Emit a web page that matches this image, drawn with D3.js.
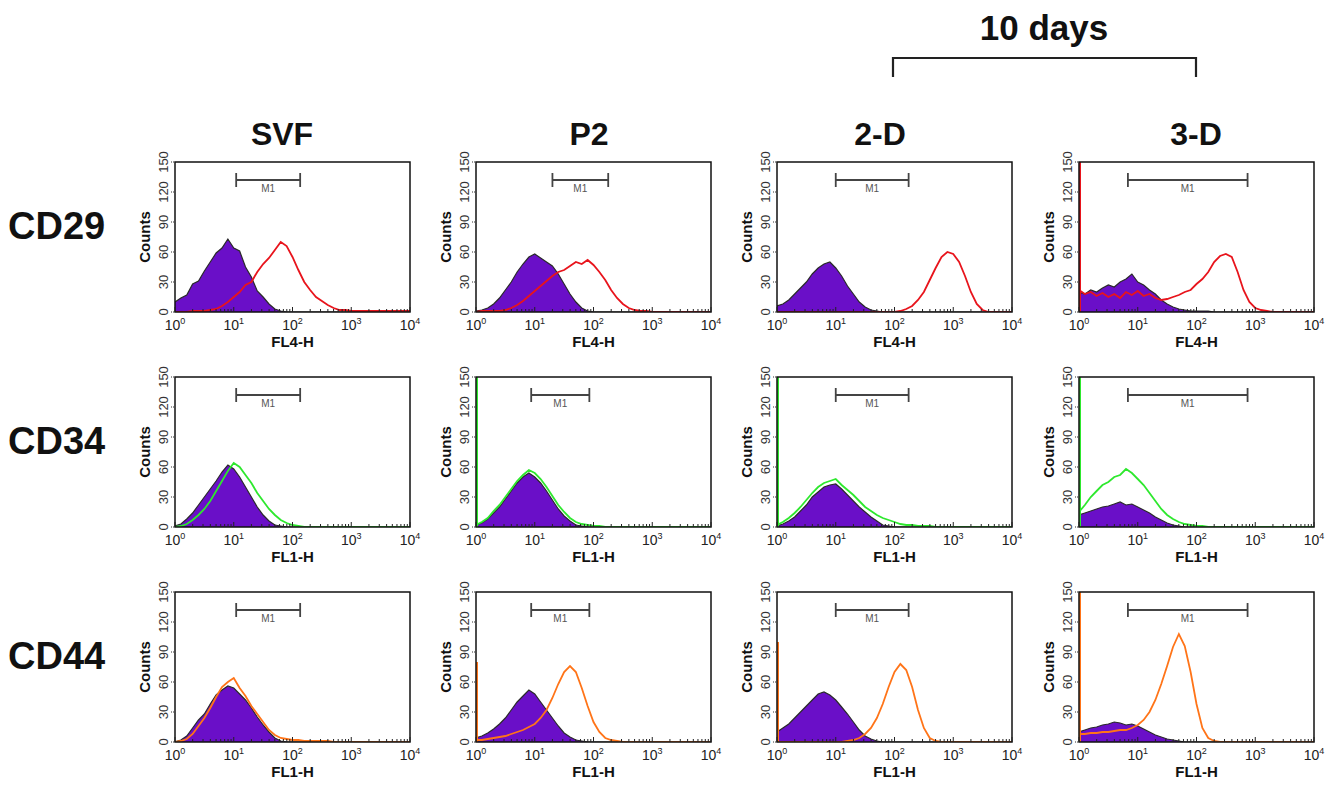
<!DOCTYPE html>
<html>
<head>
<meta charset="utf-8">
<script src="https://cdn.jsdelivr.net/npm/d3@7"></script>
<style>
  body { margin: 0; background: #fff; }
  svg { font-family: Arial, "Liberation Sans", sans-serif; }
</style>
</head>
<body>
<svg width="1336" height="787"></svg>
<script>
// log10 positions of the histogram bins (decades)
const logBins = [0,0.1,0.2,0.3,0.4,0.5,0.6,0.7,0.8,0.9,1,1.1,1.2,1.3,1.4,1.5,1.6,1.7,1.8,1.9,2,
                 2.1,2.2,2.3,2.4,2.5,2.6,2.7,2.8,2.9,3,3.1,3.2,3.3,3.4,3.5,3.6,3.7,3.8,3.9,4];
const columns = ["SVF", "P2", "2-D", "3-D"];
const markers = ["CD29", "CD34", "CD44"];
const channels = ["FL4-H", "FL1-H", "FL1-H"];
const yTicks = [0, 30, 60, 90, 120, 150];
const xTicks = [1, 10, 100, 1000, 10000];

// CD29 - isotype (filled) and antibody (line)
const cd29IsoSVF = [10,14,17,28,31,41,50,59,64,73, 64,61,45,35,21,15,8,3,1,0, 0,0,0,0,0,0,0,0,0,0, 0,0,0,0,0,0,0,0,0,0, 0];
const cd29AbSVF  = [0,0,0,1,1,1,2,3,6,10, 15,20,27,30,40,48,54,62,70,66, 55,42,30,22,15,11,7,4,2,2, 1,1,1,1,1,1,1,1,1,1, 1];
const cd29IsoP2  = [1,2,4,8,14,22,30,40,48,55, 58,54,50,46,38,28,18,10,4,1, 0,0,0,0,0,0,0,0,0,0, 0,0,0,0,0,0,0,0,0,0, 0];
const cd29AbP2   = [0,1,1,1,1,2,4,7,11,16, 21,26,31,36,40,42,46,50,48,52, 47,40,32,22,14,8,4,2,1,1, 0,0,0,0,0,0,0,0,0,0, 0];
const cd29Iso2D  = [6,8,12,18,24,30,38,44,48,50, 44,36,26,18,10,5,2,1,0,0, 0,0,0,0,0,0,0,0,0,0, 0,0,0,0,0,0,0,0,0,0, 0];
const cd29Ab2D   = [0,0,0,0,0,0,0,0,0,0, 0,0,0,0,0,0,0,0,0,0, 0,1,3,6,12,20,32,44,55,60, 58,50,36,20,8,2,0,0,0,0, 0];
const cd29Iso3D  = [20,18,22,20,24,27,25,30,33,38, 30,27,22,18,12,8,5,3,2,1, 1,1,1,0,0,0,0,0,0,0, 0,0,0,0,0,0,0,0,0,0, 0];
const cd29Ab3D   = [22,18,20,16,19,15,18,14,20,17, 21,16,18,14,12,13,15,17,20,22, 28,33,40,50,56,58,55,40,22,10, 4,2,1,0,0,0,0,0,0,0, 0];

// CD34
const cd34IsoSVF = [1,3,8,14,22,30,38,46,55,62, 58,50,40,30,20,12,6,2,1,0, 0,0,0,0,0,0,0,0,0,0, 0,0,0,0,0,0,0,0,0,0, 0];
const cd34AbSVF  = [0,1,3,7,12,18,26,36,46,56, 64,60,52,44,34,26,18,12,7,4, 2,1,0,0,0,0,0,0,0,0, 0,0,0,0,0,0,0,0,0,0, 0];
const cd34IsoP2  = [2,4,8,14,20,28,36,44,50,54, 50,44,36,27,18,11,6,2,1,0, 0,0,0,0,0,0,0,0,0,0, 0,0,0,0,0,0,0,0,0,0, 0];
const cd34AbP2   = [2,5,9,16,22,30,38,46,52,57, 54,48,40,31,22,15,9,5,3,2, 1,1,0,0,0,0,0,0,0,0, 0,0,0,0,0,0,0,0,0,0, 0];
const cd34Iso2D  = [1,3,6,10,16,22,30,35,40,42, 43,38,32,26,20,15,10,6,2,1, 0,0,0,0,0,0,0,0,0,0, 0,0,0,0,0,0,0,0,0,0, 0];
const cd34Ab2D   = [2,5,9,14,20,27,34,40,44,46, 48,42,37,32,26,20,16,12,9,7, 5,3,2,2,1,1,1,0,0,0, 0,0,0,0,0,0,0,0,0,0, 0];
const cd34Iso3D  = [12,14,16,18,20,21,23,25,22,23, 20,17,14,10,7,4,2,1,0,0, 0,0,0,0,0,0,0,0,0,0, 0,0,0,0,0,0,0,0,0,0, 0];
const cd34Ab3D   = [15,22,30,36,42,45,50,52,58,54, 48,42,34,26,18,12,8,5,3,2, 1,1,0,0,0,0,0,0,0,0, 0,0,0,0,0,0,0,0,0,0, 0];

// CD44
const cd44IsoSVF = [0,2,6,14,22,28,38,47,52,56, 54,48,42,34,25,17,10,4,1,0, 0,0,0,0,0,0,0,0,0,0, 0,0,0,0,0,0,0,0,0,0, 0];
const cd44AbSVF  = [0,1,3,8,16,24,34,45,55,60, 64,54,46,36,28,20,12,7,4,3, 2,2,1,1,1,1,1,0,0,0, 0,0,0,0,0,0,0,0,0,0, 0];
const cd44IsoP2  = [4,6,9,13,18,24,32,40,46,52, 48,40,32,24,16,9,5,2,1,0, 0,0,0,0,0,0,0,0,0,0, 0,0,0,0,0,0,0,0,0,0, 0];
const cd44AbP2   = [2,2,3,4,5,6,8,10,12,15, 18,24,32,44,58,70,76,70,54,36, 20,10,4,2,1,0,0,0,0,0, 0,0,0,0,0,0,0,0,0,0, 0];
const cd44Iso2D  = [10,14,18,24,30,36,42,48,50,47, 42,35,28,20,12,6,3,1,0,0, 0,0,0,0,0,0,0,0,0,0, 0,0,0,0,0,0,0,0,0,0, 0];
const cd44Ab2D   = [0,0,0,0,0,0,0,0,0,0, 0,0,1,2,4,8,14,24,38,55, 70,78,72,55,32,14,4,1,0,0, 0,0,0,0,0,0,0,0,0,0, 0];
const cd44Iso3D  = [10,12,14,15,17,18,20,19,17,18, 16,13,10,7,5,3,2,1,0,0, 0,0,0,0,0,0,0,0,0,0, 0,0,0,0,0,0,0,0,0,0, 0];
const cd44Ab3D   = [8,8,9,9,10,10,11,12,12,14, 17,22,30,42,58,76,95,108,96,70, 38,14,4,1,0,0,0,0,0,0, 0,0,0,0,0,0,0,0,0,0, 0];

// off-scale first channel counts (antibody line), per column
const cd29Spike = [0, 0, 0, 150];
const cd34Spike = [0, 150, 150, 150];
const cd44Spike = [0, 80, 100, 150];

// M1 marker gates [from, to] per column
const cd29Gate = [[11, 135], [20, 178], [10, 174], [6.8, 740]];
const cd34Gate = [[11, 135], [8.7, 85], [10, 174], [6.8, 740]];
const cd44Gate = [[11, 135], [8.7, 85], [10, 174], [6.8, 740]];

const rows = [
  {color: "#e8141c", iso: [cd29IsoSVF, cd29IsoP2, cd29Iso2D, cd29Iso3D], ab: [cd29AbSVF, cd29AbP2, cd29Ab2D, cd29Ab3D], spike: cd29Spike, gate: cd29Gate},
  {color: "#2ee82e", iso: [cd34IsoSVF, cd34IsoP2, cd34Iso2D, cd34Iso3D], ab: [cd34AbSVF, cd34AbP2, cd34Ab2D, cd34Ab3D], spike: cd34Spike, gate: cd34Gate},
  {color: "#ff7418", iso: [cd44IsoSVF, cd44IsoP2, cd44Iso2D, cd44Iso3D], ab: [cd44AbSVF, cd44AbP2, cd44Ab2D, cd44Ab3D], spike: cd44Spike, gate: cd44Gate}
];

const svg = d3.select("svg");
const colLeft = [175, 476, 777, 1079];
const rowTop = [162, 377, 592];
const pw = 235, ph = 150;

const x = d3.scaleLog().domain([1, 10000]).range([0, pw]);
const y = d3.scaleLinear().domain([0, 150]).range([ph, 0]);

const isoArea = d3.area()
  .x((d, i) => x(Math.pow(10, logBins[i])))
  .y0(y(0))
  .y1(d => y(d));
const histLine = d3.line()
  .x((d, i) => x(Math.pow(10, logBins[i])))
  .y(d => y(d));

// minor ticks of the log axis
let minorTicks = [];
[1, 10, 100, 1000].forEach(p => { for (let k = 2; k <= 9; k++) minorTicks.push(k * p); });

svg.append("defs").append("clipPath").attr("id", "plotclip")
  .append("rect").attr("x", 0).attr("y", 0).attr("width", pw).attr("height", ph);

rows.forEach((row, r) => {
  columns.forEach((col, c) => {
    const g = svg.append("g").attr("transform", "translate(" + colLeft[c] + "," + rowTop[r] + ")");
    const plot = g.append("g").attr("clip-path", "url(#plotclip)");

    // isotype control, filled
    plot.append("path")
      .datum(row.iso[c])
      .attr("d", isoArea)
      .attr("fill", "#6a0fc8");
    plot.append("path")
      .datum(row.iso[c])
      .attr("d", histLine)
      .attr("fill", "none")
      .attr("stroke", "#2a2a2a")
      .attr("stroke-width", 1.2);

    // antibody histogram
    plot.append("path")
      .datum(row.ab[c])
      .attr("d", histLine)
      .attr("fill", "none")
      .attr("stroke", row.color)
      .attr("stroke-width", 1.8);

    if (row.spike[c] > 0) {
      plot.append("line")
        .attr("x1", x(1) + 1).attr("x2", x(1) + 1)
        .attr("y1", y(0)).attr("y2", y(Math.min(row.spike[c], 150)))
        .attr("stroke", row.color)
        .attr("stroke-width", 2);
    }

    // frame
    g.append("rect")
      .attr("width", pw).attr("height", ph)
      .attr("fill", "none")
      .attr("stroke", "#111")
      .attr("stroke-width", 1.5);

    // x ticks
    g.selectAll(".minor").data(minorTicks).enter().append("line")
      .attr("x1", d => x(d)).attr("x2", d => x(d))
      .attr("y1", ph).attr("y2", ph - 3)
      .attr("stroke", "#222").attr("stroke-width", 1);
    g.selectAll(".major").data(xTicks).enter().append("line")
      .attr("x1", d => x(d)).attr("x2", d => x(d))
      .attr("y1", ph).attr("y2", ph - 5)
      .attr("stroke", "#222").attr("stroke-width", 1);
    const xl = g.selectAll(".xlab").data(xTicks).enter().append("text")
      .attr("x", d => x(d))
      .attr("y", ph + 18)
      .attr("text-anchor", "middle")
      .attr("font-size", 14)
      .attr("fill", "#222");
    xl.append("tspan").text("10");
    xl.append("tspan").attr("dy", -6).attr("font-size", 9).text(d => Math.round(Math.log10(d)));

    // y ticks
    g.selectAll(".ytick").data(yTicks).enter().append("line")
      .attr("x1", -4).attr("x2", 0)
      .attr("y1", d => y(d)).attr("y2", d => y(d))
      .attr("stroke", "#333").attr("stroke-dasharray", "1,1");
    g.selectAll(".ylab").data(yTicks).enter().append("text")
      .attr("transform", d => "translate(-7," + y(d) + ") rotate(-90)")
      .attr("text-anchor", "middle")
      .attr("font-size", 13)
      .attr("fill", "#333")
      .text(d => d);

    g.append("text")
      .attr("transform", "translate(-25," + (ph / 2) + ") rotate(-90)")
      .attr("text-anchor", "middle")
      .attr("font-size", 15)
      .attr("font-weight", "bold")
      .attr("fill", "#111")
      .text("Counts");

    g.append("text")
      .attr("x", pw / 2)
      .attr("y", ph + 35)
      .attr("text-anchor", "middle")
      .attr("font-size", 15)
      .attr("font-weight", "bold")
      .attr("fill", "#111")
      .text(channels[r]);

    // M1 marker
    const gx0 = x(row.gate[c][0]), gx1 = x(row.gate[c][1]);
    const m1 = g.append("g").attr("stroke", "#444").attr("stroke-width", 1.8);
    m1.append("line").attr("x1", gx0).attr("x2", gx1).attr("y1", 18).attr("y2", 18);
    m1.append("line").attr("x1", gx0).attr("x2", gx0).attr("y1", 11).attr("y2", 25);
    m1.append("line").attr("x1", gx1).attr("x2", gx1).attr("y1", 11).attr("y2", 25);
    g.append("text")
      .attr("x", (gx0 + gx1) / 2)
      .attr("y", 30)
      .attr("text-anchor", "middle")
      .attr("font-size", 10)
      .attr("fill", "#555")
      .text("M1");
  });
});

// column titles
const titleX = [282, 589, 880, 1196];
svg.selectAll(".coltitle").data(columns).enter().append("text")
  .attr("x", (d, i) => titleX[i])
  .attr("y", 145)
  .attr("text-anchor", "middle")
  .attr("font-size", 32)
  .attr("font-weight", "bold")
  .attr("fill", "#111")
  .text(d => d);

// row labels
svg.selectAll(".rowlabel").data(markers).enter().append("text")
  .attr("x", 8)
  .attr("y", (d, i) => rowTop[i] + 77)
  .attr("font-size", 38)
  .attr("font-weight", "bold")
  .attr("fill", "#111")
  .text(d => d);

// "10 days" bracket over 2-D and 3-D
svg.append("text")
  .attr("x", 1044).attr("y", 40)
  .attr("text-anchor", "middle")
  .attr("font-size", 35)
  .attr("font-weight", "bold")
  .attr("fill", "#111")
  .text("10 days");
svg.append("path")
  .attr("d", "M893,77 V58 H1196 V77")
  .attr("fill", "none")
  .attr("stroke", "#222")
  .attr("stroke-width", 2.2);
</script>
</body>
</html>
